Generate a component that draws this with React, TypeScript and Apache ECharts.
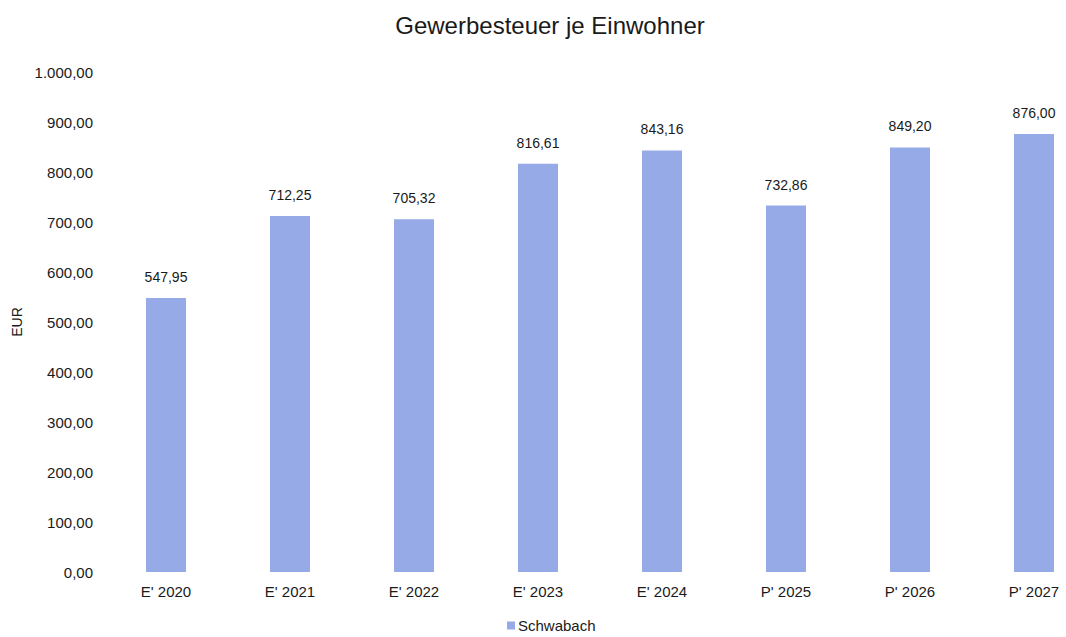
import React, { useEffect, useRef } from "react";
import * as echarts from "echarts";

const categories = ["E' 2020", "E' 2021", "E' 2022", "E' 2023", "E' 2024", "P' 2025", "P' 2026", "P' 2027"];
const values = [547.95, 712.25, 705.32, 816.61, 843.16, 732.86, 849.2, 876.0];
const seriesName = "Schwabach";
const titleText = "Gewerbesteuer je Einwohner";
const yAxisName = "EUR";

function fmtDE(v: number): string {
  const fixed = v.toFixed(2);
  const [intPart, dec] = fixed.split(".");
  const withSep = intPart.replace(/\B(?=(\d{3})+(?!\d))/g, ".");
  return withSep + "," + dec;
}

export default function App() {
  const ref = useRef<HTMLDivElement>(null);
  useEffect(() => {
    document.body.style.margin = "0";
    document.body.style.overflow = "hidden";
    const chart = echarts.init(ref.current!, undefined, { renderer: "svg" });
    const font = "Liberation Sans, Arial, sans-serif";
    chart.setOption({
      animation: false,
      backgroundColor: "#ffffff",
      textStyle: { fontFamily: font },
      title: {
        text: titleText,
        left: 545,
        textAlign: "center",
        top: 8,
        textStyle: { fontFamily: font, fontSize: 24, fontWeight: "normal", color: "#1a1a1a" },
      },
      legend: {
        data: [seriesName],
        top: 618,
        left: 507,
        padding: 0,
        itemWidth: 8,
        itemHeight: 8,
        itemGap: 4,
        icon: "rect",
        textStyle: { fontFamily: font, fontSize: 15, color: "#1a1a1a", padding: [0, 0, 0, -2] },
      },
      grid: { left: 104, right: 4, top: 72, bottom: 65 },
      xAxis: {
        type: "category",
        data: categories,
        axisLine: { show: false },
        axisTick: { show: false },
        axisLabel: { fontFamily: font, fontSize: 15, color: "#1a1a1a", margin: 12 },
      },
      yAxis: {
        type: "value",
        min: 0,
        max: 1000,
        interval: 100,
        name: yAxisName,
        nameLocation: "middle",
        nameGap: 79,
        nameTextStyle: { fontFamily: font, fontSize: 14, color: "#1a1a1a" },
        axisLine: { show: false },
        axisTick: { show: false },
        splitLine: { show: false },
        axisLabel: {
          fontFamily: font,
          fontSize: 15,
          color: "#1a1a1a",
          margin: 11,
          formatter: (v: number) => fmtDE(v),
        },
      },
      series: [
        {
          name: seriesName,
          type: "bar",
          data: values,
          barWidth: 40,
          itemStyle: { color: "#95AAE6" },
          label: {
            show: true,
            position: "top",
            distance: 14,
            fontFamily: font,
            fontSize: 14,
            color: "#1a1a1a",
            formatter: (p: any) => fmtDE(p.value),
          },
        },
      ],
    });
    return () => chart.dispose();
  }, []);
  return <div ref={ref} style={{ position: "absolute", left: 0, top: 0, width: 1100, height: 637 }} />;
}
